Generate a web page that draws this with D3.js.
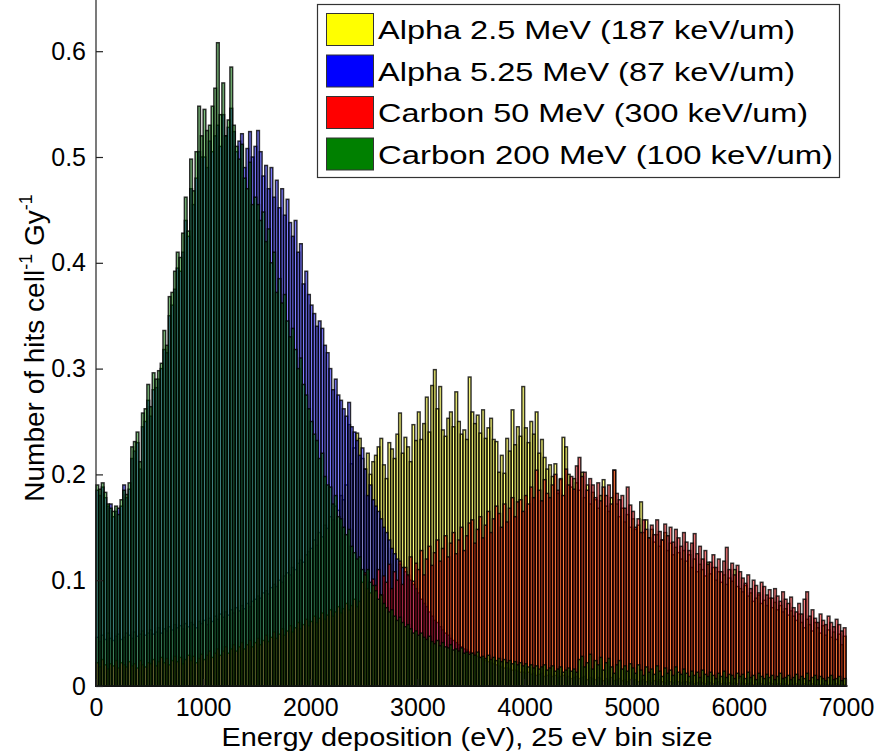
<!DOCTYPE html>
<html>
<head>
<meta charset="utf-8">
<script src="https://cdn.jsdelivr.net/npm/d3@7"></script>
<style>
  body { margin: 0; background: #fff; }
  svg { display: block; font-family: "Liberation Sans", Arial, sans-serif; }
</style>
</head>
<body>
<div id="chart"></div>
<script>
var width = 876,
    height = 754;

var binSize = 25;
var xTicks = [0, 1000, 2000, 3000, 4000, 5000, 6000, 7000];
var yTicks = [0, 0.1, 0.2, 0.3, 0.4, 0.5, 0.6];

var seriesNames = ["Alpha 2.5 MeV (187 keV/um)", "Alpha 5.25 MeV (87 keV/um)",
                   "Carbon 50 MeV (300 keV/um)", "Carbon 200 MeV (100 keV/um)"];
var seriesColors = ["#ffff00", "#0000ff", "#ff0000", "#008000"];

// hits per 25 eV bin, 0 .. 6975 eV (20 bins per row = 500 eV)
var alpha25 = [
  0.046,0.042,0.048,0.044,0.050,0.045,0.043,0.047,0.049,0.044,0.046,0.050,0.048,0.045,0.051,0.047,0.049,0.052,0.048,0.050,
  0.053,0.049,0.051,0.055,0.050,0.054,0.052,0.056,0.053,0.058,0.055,0.057,0.054,0.059,0.056,0.060,0.058,0.055,0.061,0.059,
  0.062,0.058,0.064,0.061,0.066,0.063,0.068,0.065,0.070,0.067,0.072,0.069,0.074,0.071,0.076,0.073,0.078,0.075,0.080,0.082,
  0.085,0.083,0.088,0.090,0.087,0.093,0.096,0.094,0.100,0.098,0.104,0.107,0.105,0.112,0.110,0.116,0.119,0.117,0.124,0.127,
  0.130,0.138,0.133,0.145,0.141,0.152,0.149,0.160,0.157,0.170,0.166,0.180,0.176,0.190,0.247,0.210,0.225,0.239,0.234,0.215,
  0.205,0.220,0.200,0.212,0.218,0.226,0.234,0.209,0.196,0.230,0.224,0.215,0.238,0.258,0.220,0.235,0.226,0.212,0.247,0.232,
  0.259,0.233,0.248,0.273,0.240,0.284,0.299,0.262,0.283,0.242,0.236,0.253,0.259,0.245,0.278,0.250,0.238,0.242,0.233,0.292,
  0.259,0.248,0.256,0.239,0.261,0.234,0.244,0.253,0.233,0.231,0.202,0.218,0.201,0.234,0.222,0.261,0.228,0.245,0.236,0.283,
  0.244,0.230,0.250,0.238,0.259,0.220,0.233,0.216,0.205,0.209,0.198,0.210,0.182,0.195,0.235,0.226,0.200,0.188,0.196,0.192,
  0.185,0.202,0.178,0.190,0.172,0.183,0.176,0.168,0.180,0.195,0.170,0.165,0.178,0.204,0.172,0.160,0.168,0.155,0.162,0.150,
  0.158,0.148,0.152,0.174,0.145,0.157,0.140,0.148,0.136,0.143,0.132,0.138,0.145,0.128,0.135,0.124,0.131,0.126,0.120,0.128,
  0.118,0.124,0.112,0.120,0.108,0.115,0.110,0.104,0.117,0.106,0.112,0.100,0.108,0.098,0.105,0.096,0.102,0.099,0.110,0.094,
  0.092,0.089,0.095,0.085,0.088,0.080,0.083,0.086,0.078,0.081,0.076,0.083,0.074,0.079,0.072,0.076,0.070,0.073,0.067,0.071,
  0.066,0.062,0.068,0.060,0.055,0.063,0.058,0.052,0.060,0.055,0.050,0.057,0.048,0.053,0.046,0.051,0.044,0.049,0.039,0.047
];

var alpha525 = [
  0.185,0.180,0.188,0.178,0.170,0.172,0.160,0.165,0.168,0.170,0.190,0.178,0.186,0.215,0.222,0.230,0.205,0.245,0.250,0.270,
  0.255,0.280,0.282,0.290,0.300,0.318,0.315,0.350,0.360,0.375,0.395,0.392,0.410,0.440,0.425,0.470,0.455,0.480,0.505,0.500,
  0.500,0.490,0.515,0.505,0.520,0.530,0.510,0.540,0.520,0.528,0.546,0.524,0.505,0.515,0.522,0.490,0.508,0.524,0.500,0.510,
  0.525,0.505,0.482,0.492,0.470,0.490,0.462,0.478,0.452,0.470,0.445,0.460,0.438,0.425,0.440,0.410,0.418,0.380,0.392,0.370,
  0.360,0.352,0.340,0.345,0.338,0.322,0.315,0.300,0.280,0.290,0.275,0.270,0.262,0.255,0.268,0.245,0.240,0.232,0.218,0.225,
  0.205,0.180,0.190,0.176,0.170,0.165,0.158,0.150,0.145,0.138,0.130,0.125,0.120,0.115,0.112,0.108,0.104,0.100,0.096,0.092,
  0.088,0.082,0.078,0.075,0.070,0.066,0.062,0.060,0.056,0.053,0.050,0.048,0.045,0.043,0.041,0.039,0.037,0.035,0.034,0.032,
  0.031,0.029,0.028,0.027,0.025,0.024,0.023,0.022,0.021,0.020,0.019,0.018,0.017,0.017,0.016,0.015,0.015,0.014,0.013,0.013,
  0.012,0.013,0.011,0.012,0.010,0.011,0.012,0.009,0.010,0.011,0.009,0.010,0.008,0.009,0.010,0.008,0.009,0.007,0.008,0.009,
  0.007,0.008,0.009,0.006,0.008,0.007,0.006,0.008,0.007,0.005,0.007,0.006,0.008,0.005,0.006,0.007,0.005,0.006,0.004,0.006,
  0.005,0.006,0.004,0.005,0.006,0.004,0.005,0.003,0.005,0.004,0.006,0.004,0.003,0.005,0.004,0.003,0.005,0.004,0.003,0.004,
  0.004,0.003,0.004,0.002,0.003,0.004,0.003,0.002,0.004,0.003,0.002,0.003,0.004,0.002,0.003,0.002,0.003,0.002,0.003,0.002,
  0.002,0.003,0.002,0.002,0.003,0.001,0.002,0.003,0.002,0.001,0.002,0.003,0.002,0.001,0.002,0.002,0.001,0.002,0.001,0.002,
  0.001,0.002,0.001,0.001,0.002,0.001,0.001,0.002,0.001,0.001,0.001,0.002,0.001,0.001,0.001,0.001,0.002,0.001,0.001,0.001
];

var carbon50 = [
  0.022,0.018,0.025,0.020,0.016,0.021,0.019,0.024,0.017,0.022,0.020,0.018,0.023,0.019,0.021,0.017,0.024,0.020,0.018,0.022,
  0.021,0.025,0.019,0.023,0.027,0.022,0.026,0.020,0.024,0.028,0.023,0.027,0.021,0.025,0.029,0.024,0.028,0.022,0.026,0.030,
  0.025,0.029,0.033,0.027,0.031,0.035,0.029,0.033,0.037,0.031,0.035,0.039,0.033,0.037,0.041,0.035,0.039,0.043,0.037,0.041,
  0.045,0.039,0.043,0.048,0.042,0.046,0.051,0.045,0.049,0.054,0.048,0.052,0.057,0.051,0.055,0.060,0.054,0.058,0.063,0.057,
  0.061,0.066,0.060,0.064,0.069,0.063,0.067,0.072,0.066,0.070,0.075,0.069,0.073,0.078,0.072,0.076,0.082,0.075,0.080,0.098,
  0.107,0.092,0.088,0.101,0.095,0.110,0.086,0.104,0.098,0.115,0.092,0.108,0.100,0.118,0.096,0.112,0.105,0.122,0.099,0.116,
  0.110,0.128,0.105,0.120,0.132,0.114,0.126,0.138,0.118,0.130,0.142,0.122,0.135,0.145,0.125,0.138,0.150,0.128,0.142,0.154,
  0.157,0.135,0.148,0.160,0.140,0.152,0.165,0.145,0.158,0.170,0.163,0.150,0.172,0.155,0.168,0.178,0.160,0.174,0.176,0.165,
  0.180,0.172,0.188,0.178,0.204,0.185,0.175,0.195,0.182,0.178,0.190,0.200,0.185,0.196,0.180,0.205,0.190,0.198,0.186,0.208,
  0.216,0.198,0.202,0.185,0.196,0.190,0.178,0.192,0.175,0.188,0.180,0.190,0.172,0.204,0.182,0.176,0.180,0.168,0.188,0.171,
  0.165,0.150,0.158,0.145,0.157,0.148,0.140,0.152,0.143,0.157,0.146,0.138,0.153,0.142,0.150,0.136,0.148,0.140,0.132,0.145,
  0.136,0.128,0.135,0.144,0.125,0.132,0.120,0.128,0.115,0.117,0.124,0.112,0.120,0.108,0.118,0.131,0.110,0.116,0.105,0.114,
  0.108,0.102,0.097,0.105,0.092,0.100,0.095,0.088,0.098,0.094,0.086,0.091,0.083,0.092,0.085,0.080,0.089,0.082,0.078,0.084,
  0.074,0.070,0.078,0.068,0.082,0.089,0.066,0.072,0.064,0.060,0.068,0.062,0.058,0.066,0.060,0.056,0.063,0.058,0.052,0.055
];

var carbon200 = [
  0.190,0.186,0.192,0.183,0.172,0.168,0.165,0.170,0.162,0.176,0.185,0.181,0.192,0.226,0.231,0.240,0.212,0.258,0.262,0.285,
  0.264,0.296,0.290,0.298,0.305,0.336,0.322,0.368,0.372,0.392,0.410,0.405,0.428,0.462,0.430,0.498,0.468,0.505,0.548,0.520,
  0.545,0.525,0.530,0.548,0.565,0.608,0.540,0.570,0.520,0.535,0.585,0.530,0.510,0.498,0.512,0.480,0.470,0.495,0.455,0.462,
  0.455,0.440,0.448,0.420,0.432,0.400,0.410,0.372,0.385,0.362,0.370,0.345,0.330,0.338,0.318,0.300,0.310,0.285,0.275,0.262,
  0.250,0.238,0.232,0.215,0.220,0.198,0.190,0.188,0.172,0.180,0.160,0.158,0.150,0.143,0.148,0.132,0.126,0.120,0.122,0.110,
  0.105,0.110,0.098,0.095,0.090,0.082,0.086,0.078,0.074,0.070,0.072,0.066,0.062,0.065,0.060,0.056,0.058,0.054,0.050,0.052,
  0.048,0.050,0.046,0.044,0.047,0.042,0.040,0.043,0.038,0.041,0.037,0.036,0.039,0.034,0.035,0.033,0.036,0.031,0.032,0.030,
  0.031,0.029,0.032,0.027,0.028,0.026,0.029,0.025,0.027,0.024,0.026,0.023,0.025,0.022,0.024,0.021,0.023,0.020,0.022,0.019,
  0.021,0.018,0.020,0.017,0.019,0.016,0.018,0.020,0.015,0.017,0.019,0.014,0.016,0.018,0.013,0.015,0.017,0.014,0.016,0.013,
  0.025,0.028,0.018,0.022,0.030,0.016,0.024,0.020,0.027,0.015,0.022,0.026,0.018,0.012,0.020,0.024,0.016,0.019,0.014,0.021,
  0.017,0.012,0.020,0.015,0.010,0.018,0.013,0.016,0.011,0.019,0.014,0.009,0.017,0.012,0.015,0.010,0.018,0.013,0.011,0.016,
  0.012,0.009,0.014,0.010,0.013,0.008,0.015,0.011,0.009,0.013,0.010,0.007,0.012,0.009,0.014,0.008,0.011,0.010,0.007,0.012,
  0.009,0.011,0.007,0.013,0.008,0.010,0.006,0.012,0.009,0.007,0.011,0.008,0.010,0.006,0.009,0.012,0.007,0.008,0.010,0.006,
  0.008,0.011,0.006,0.009,0.007,0.012,0.005,0.008,0.010,0.006,0.009,0.007,0.005,0.008,0.010,0.006,0.007,0.009,0.005,0.007
];

var series = [alpha25, alpha525, carbon50, carbon200];

var x = d3.scaleLinear().domain([0, 7000]).range([96, 846]);
var y = d3.scaleLinear().domain([0, 0.65]).range([686, -1.7]);

var svg = d3.select("#chart").append("svg")
    .attr("width", width)
    .attr("height", height);

// bars, drawn in legend order so green ends up on top
series.forEach(function(vals, s) {
  svg.append("g")
    .selectAll("rect")
    .data(vals)
    .enter().append("rect")
      .attr("x", function(d, i) { return x(i * binSize); })
      .attr("y", function(d) { return y(d); })
      .attr("width", x(binSize) - x(0))
      .attr("height", function(d) { return y(0) - y(d); })
      .attr("fill", seriesColors[s])
      .attr("fill-opacity", 0.5)
      .attr("stroke", "#000")
      .attr("stroke-opacity", 0.8)
      .attr("stroke-width", 1.5);
});

// axes
var xAxis = d3.axisBottom(x).tickValues(xTicks).tickSize(-7).tickPadding(12).tickFormat(d3.format("d"));
var yAxis = d3.axisLeft(y).tickValues(yTicks).tickSize(-7).tickPadding(10).tickFormat(function(d) { return d === 0 ? "0" : d3.format(".1f")(d); });

svg.append("g")
    .attr("transform", "translate(0,686)")
    .call(xAxis)
    .call(function(g) { g.select(".domain").attr("d", "M96,0H848"); });

svg.append("g")
    .attr("transform", "translate(96,0)")
    .call(yAxis)
    .call(function(g) { g.select(".domain").attr("d", "M0,0V686"); });

svg.selectAll(".tick text")
    .attr("font-size", 25)
    .attr("font-family", "'Liberation Sans', Arial, sans-serif")
    .attr("fill", "#000");
svg.selectAll(".tick line, .domain")
    .attr("stroke", "#222")
    .attr("stroke-width", 1.2);

// axis titles
svg.append("text")
    .attr("x", 467)
    .attr("y", 746)
    .attr("text-anchor", "middle")
    .attr("font-size", 25)
    .attr("textLength", 491)
    .attr("lengthAdjust", "spacingAndGlyphs")
    .text("Energy deposition (eV), 25 eV bin size");

var ylab = svg.append("text")
    .attr("transform", "translate(44,348) rotate(-90)")
    .attr("text-anchor", "middle")
    .attr("font-size", 28);
ylab.append("tspan").text("Number of hits cell");
ylab.append("tspan").attr("font-size", 18).attr("dy", -12).text("-1");
ylab.append("tspan").attr("dy", 12).text(" Gy");
ylab.append("tspan").attr("font-size", 18).attr("dy", -12).text("-1");

// legend
var legend = svg.append("g");
legend.append("rect")
    .attr("x", 317.5).attr("y", 4.5)
    .attr("width", 522).attr("height", 173)
    .attr("fill", "#fff")
    .attr("stroke", "#333")
    .attr("stroke-width", 1.2);

var textWidths = [417, 417, 430, 455];
seriesNames.forEach(function(name, i) {
  var top = 13 + i * 41.5;
  legend.append("rect")
    .attr("x", 326.5).attr("y", top + 0.5)
    .attr("width", 47).attr("height", 32)
    .attr("fill", seriesColors[i])
    .attr("stroke", "#333")
    .attr("stroke-width", 1);
  legend.append("text")
    .attr("x", 378)
    .attr("y", top + 26)
    .attr("font-size", 25)
    .attr("textLength", textWidths[i])
    .attr("lengthAdjust", "spacingAndGlyphs")
    .text(name);
});
</script>
</body>
</html>
